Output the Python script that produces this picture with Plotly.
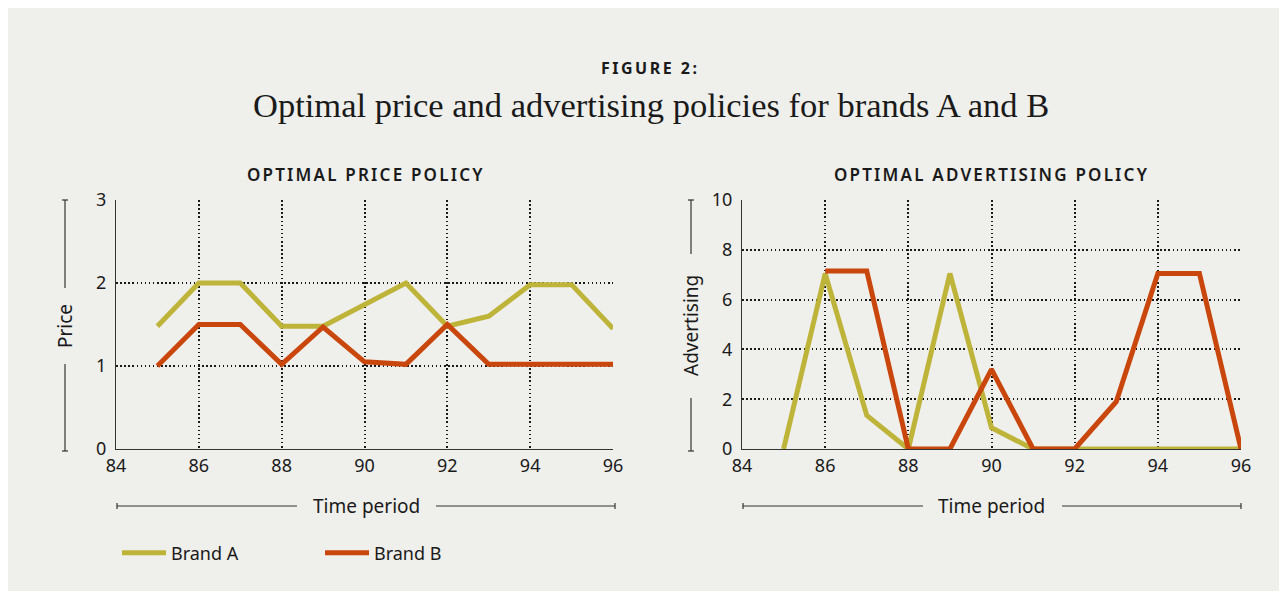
import plotly.graph_objects as go

# ---------------- data ----------------
periods = [85, 86, 87, 88, 89, 90, 91, 92, 93, 94, 95, 96]
price_brand_a = [1.48, 2.0, 2.0, 1.48, 1.48, 1.74, 2.0, 1.48, 1.6, 1.98, 1.98, 1.45]
price_brand_b = [1.0, 1.5, 1.5, 1.02, 1.47, 1.05, 1.02, 1.5, 1.02, 1.02, 1.02, 1.02]
adv_brand_a = [0, 7.05, 1.35, 0, 7.05, 0.85, 0, 0, 0, 0, 0, 0]
adv_brand_b = [None, 7.15, 7.15, 0, 0, 3.2, 0, 0, 1.9, 7.05, 7.05, 0]

x_ticks = [84, 86, 88, 90, 92, 94, 96]
price_ticks = [0, 1, 2, 3]
adv_ticks = [0, 2, 4, 6, 8, 10]

series_names = ["Brand A", "Brand B"]
series_colors = ["#bfb43a", "#c9470c"]

# page has an 8px body margin: figure sized to fit the window
OFF = 8
W, H = 1279, 598
PAPER = "#efefeb"
INK = "#1a1a1a"
SANS = "Noto Sans, Open Sans, sans-serif"


def px(x):
    return (x - OFF) / W


def py(y):
    return 1 - (y - OFF) / H


fig = go.Figure()

for vals, name, col in zip([price_brand_a, price_brand_b], series_names, series_colors):
    fig.add_trace(go.Scatter(x=periods, y=vals, mode="lines", name=name,
                             line=dict(color=col, width=5), xaxis="x", yaxis="y",
                             showlegend=True))
for vals, name, col in zip([adv_brand_a, adv_brand_b], series_names, series_colors):
    fig.add_trace(go.Scatter(x=periods, y=vals, mode="lines", name=name,
                             line=dict(color=col, width=5), xaxis="x2", yaxis="y2",
                             showlegend=False, connectgaps=False))

axis_common = dict(showline=True, linecolor="#333333", linewidth=1.3, automargin=False,
                   showgrid=True, gridcolor=INK, gridwidth=1.5, griddash="1.5px,2.6px",
                   zeroline=False, ticks="", tickfont=dict(family=SANS, size=18, color=INK),
                   fixedrange=True)

fig.update_layout(
    width=W, height=H, autosize=False,
    margin=dict(l=0, r=0, t=0, b=0, pad=0, autoexpand=False),
    paper_bgcolor="white", plot_bgcolor="rgba(0,0,0,0)",
    xaxis=dict(domain=[px(116), px(613)], range=[84, 96], tickvals=x_ticks,
               anchor="y", **axis_common),
    yaxis=dict(domain=[py(449), py(200)], range=[0, 3], tickvals=price_ticks,
               anchor="x", ticklabelstandoff=5, **axis_common),
    xaxis2=dict(domain=[px(742), px(1241)], range=[84, 96], tickvals=x_ticks,
                anchor="y2", **axis_common),
    yaxis2=dict(domain=[py(449), py(200)], range=[0, 10], tickvals=adv_ticks,
                anchor="x2", ticklabelstandoff=5, **axis_common),
    legend=dict(orientation="h", x=px(117), y=py(553), yanchor="middle", xanchor="left",
                bgcolor="rgba(0,0,0,0)", font=dict(family=SANS, size=18, color=INK),
                entrywidth=144, entrywidthmode="pixels", itemwidth=44),
)

shapes = []
# paper background with white border
shapes.append(dict(type="rect", xref="paper", yref="paper", x0=px(8), x1=px(1281),
                   y0=py(591), y1=py(8), fillcolor=PAPER, line=dict(width=0), layer="below"))

line_style = dict(color="#333333", width=1.2)


def hline(x0, x1, y):
    shapes.append(dict(type="line", xref="paper", yref="paper", x0=px(x0), x1=px(x1),
                       y0=py(y), y1=py(y), line=line_style))


def vline(x, y0, y1):
    shapes.append(dict(type="line", xref="paper", yref="paper", x0=px(x), x1=px(x),
                       y0=py(y0), y1=py(y1), line=line_style))


# y-axis title brackets
for xb, top_end, bot_start in [(65, 288, 364), (691, 254, 398)]:
    vline(xb, 200, top_end)
    vline(xb, bot_start, 451)
    hline(xb - 3, xb + 3, 200)
    hline(xb - 3, xb + 3, 451)

# x-axis title brackets
for l0, l1, r0, r1 in [(117, 297, 436, 615), (743, 923, 1062, 1241)]:
    hline(l0, l1, 506)
    hline(r0, r1, 506)
    vline(l0, 503, 509)
    vline(r1, 503, 509)

fig.update_layout(shapes=shapes)

ann = []
ann.append(dict(text='<span style="letter-spacing:2.5px"><b>FIGURE 2:</b></span>',
                x=px(650), y=py(68), xref="paper", yref="paper", showarrow=False,
                xanchor="center", yanchor="middle",
                font=dict(family=SANS, size=16, color=INK)))
ann.append(dict(text="Optimal price and advertising policies for brands A and B",
                x=px(651), y=py(105), xref="paper", yref="paper", showarrow=False,
                xanchor="center", yanchor="middle",
                font=dict(family="Liberation Serif, serif", size=34.5, color=INK)))
for cx, t in [(366, "OPTIMAL PRICE POLICY"), (992, "OPTIMAL ADVERTISING POLICY")]:
    ann.append(dict(text='<span style="letter-spacing:2.2px">' + t + '</span>',
                    x=px(cx), y=py(175), xref="paper", yref="paper", showarrow=False,
                    xanchor="center", yanchor="middle",
                    font=dict(family=SANS, size=17, color=INK, weight=600)))
for cx in [366, 992]:
    ann.append(dict(text="Time period", x=px(cx), y=py(506), xref="paper", yref="paper",
                    showarrow=False, xanchor="center", yanchor="middle",
                    font=dict(family=SANS, size=19, color=INK)))
for xb, cy, t in [(65, 326, "Price"), (691, 326, "Advertising")]:
    ann.append(dict(text=t, x=px(xb), y=py(cy), xref="paper", yref="paper",
                    showarrow=False, textangle=-90, xanchor="center", yanchor="middle",
                    font=dict(family=SANS, size=19, color=INK)))
fig.update_layout(annotations=ann)

fig.write_html("out.html")
